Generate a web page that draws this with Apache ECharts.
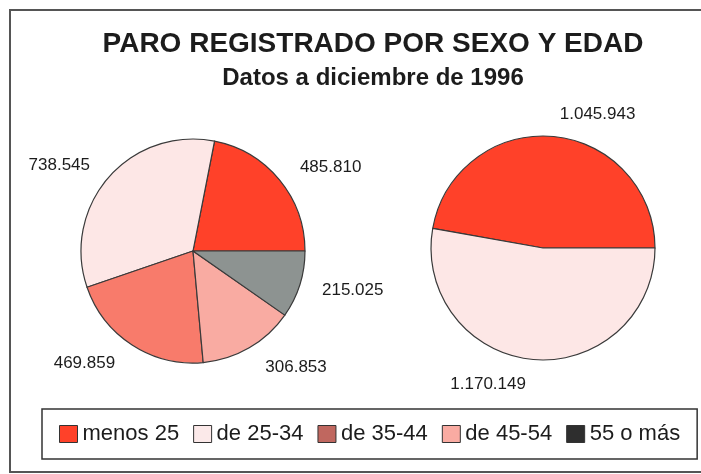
<!DOCTYPE html>
<html>
<head>
<meta charset="utf-8">
<script src="https://cdn.jsdelivr.net/npm/echarts@6/dist/echarts.min.js"></script>
<style>
  html, body { margin: 0; padding: 0; background: #fff; }
  #chart { width: 701px; height: 474px; }
</style>
</head>
<body>
<div id="chart"></div>
<script>
// grupos de edad (tarta izquierda)
const ageGroups = ['menos 25', 'de 25-34', 'de 35-44', 'de 45-54', '55 o más']
const ageValues = [485810, 738545, 469859, 306853, 215025]
const ageColors = ['#ff4129', '#fde7e6', '#f87b6b', '#f9aba2', '#8d9391']
// colores de la leyenda (muestras tramadas en el original)
const legendColors = ['#ff4129', '#fbe9e9', '#c0675f', '#f9aba2', '#2e2e2e']
// separacion de cada etiqueta respecto al borde
const ageLabelGap = [20, 18, 22, 22, 18]

// sexo (tarta derecha)
const sexGroups = ['Varones', 'Mujeres']
const sexValues = [1045943, 1170149]
const sexColors = ['#ff4129', '#fde7e6']
const sexLabelGap = [22, 25]

const font = '"Liberation Sans", Arial, sans-serif'

function miles(v) {
  return String(v).replace(/\B(?=(\d{3})+(?!\d))/g, '.')
}

function pieSeries(name, center, names, values, colors, gaps) {
  return {
    name: name,
    type: 'pie',
    center: center,
    radius: 112,
    startAngle: 0,
    clockwise: false,
    avoidLabelOverlap: false,
    itemStyle: { borderColor: '#3a3a3a', borderWidth: 1.2 },
    label: {
      show: true,
      position: 'outside',
      fontSize: 17,
      color: '#1c1c1c',
      fontFamily: font,
      formatter: p => miles(p.value)
    },
    labelLine: { show: false, length: 20, length2: 0 },
    emphasis: { disabled: true },
    data: names.map((n, i) => ({
      name: n,
      value: values[i],
      itemStyle: { color: colors[i] },
      labelLine: { length: gaps[i] }
    }))
  }
}

let myChart = echarts.init(document.getElementById('chart'))
myChart.setOption({
  animation: false,
  textStyle: { fontFamily: font },
  title: {
    text: 'PARO REGISTRADO POR SEXO Y EDAD',
    subtext: 'Datos a diciembre de 1996',
    left: 368,
    top: 25,
    textAlign: 'center',
    itemGap: 8,
    textStyle: { fontSize: 28, fontWeight: 'bold', color: '#1c1c1c', fontFamily: font },
    subtextStyle: { fontSize: 24, fontWeight: 'bold', color: '#1c1c1c', fontFamily: font }
  },
  legend: {
    left: 42,
    top: 409,
    padding: [14, 17],
    borderColor: '#333',
    borderWidth: 1.5,
    itemWidth: 18,
    itemHeight: 17,
    itemGap: 14,
    icon: 'rect',
    textStyle: { fontSize: 22, color: '#1c1c1c', fontFamily: font },
    data: ageGroups.map((name, i) => ({
      name: name,
      itemStyle: { color: legendColors[i], borderColor: '#333', borderWidth: 1 }
    }))
  },
  graphic: [
    {
      type: 'rect',
      shape: { x: 10, y: 10, width: 700, height: 462 },
      style: { fill: null, stroke: '#555', lineWidth: 2 },
      silent: true,
      z: -1
    }
  ],
  series: [
    pieSeries('Edad', [193, 251], ageGroups, ageValues, ageColors, ageLabelGap),
    pieSeries('Sexo', [543, 248], sexGroups, sexValues, sexColors, sexLabelGap)
  ]
})
</script>
</body>
</html>
